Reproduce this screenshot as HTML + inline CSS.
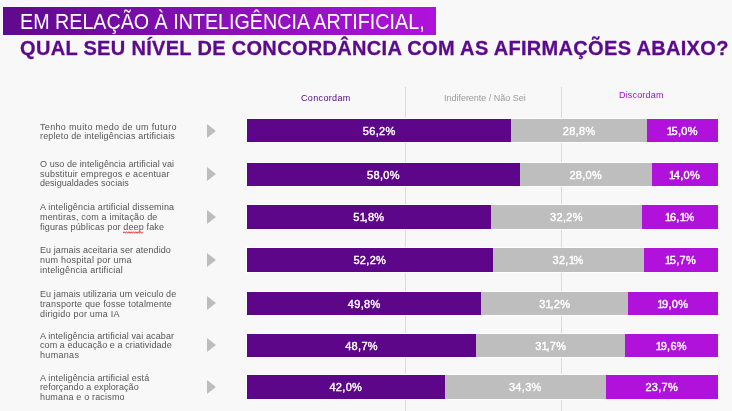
<!DOCTYPE html>
<html lang="pt-BR">
<head>
<meta charset="utf-8">
<title>Concordância IA</title>
<style>
html,body{margin:0;padding:0;}
#w{position:absolute;left:0;top:0;width:732px;height:411px;will-change:transform;}
body{width:732px;height:411px;overflow:hidden;background:#f8f8f8;position:relative;font-family:"Liberation Sans",Arial,sans-serif;}
.hbox{position:absolute;left:3px;top:7px;width:433px;height:28px;background:linear-gradient(90deg,#5e0a8e 0%,#8c10bb 55%,#b012dc 100%);box-shadow:0 0 0 1px #fff;}
.h1{position:absolute;left:19.7px;top:9.9px;color:#fff;font-size:21.8px;line-height:24px;white-space:nowrap;transform-origin:0 0;}
.h2{position:absolute;left:20px;top:35.7px;color:#5c0a8c;font-weight:bold;font-size:20px;line-height:24px;white-space:nowrap;letter-spacing:0.32px;-webkit-text-stroke:0.3px #5c0a8c;}
.grid{position:absolute;top:87px;width:1px;height:324px;background:#dadada;}
.col{position:absolute;font-size:9px;line-height:10px;white-space:nowrap;}
.l{position:absolute;left:40px;color:#555;font-size:9px;line-height:10px;white-space:nowrap;}
.tri{position:absolute;left:207px;width:0;height:0;border-top:7.5px solid transparent;border-bottom:7.5px solid transparent;border-left:9px solid #bdbdbd;}
.bar{position:absolute;left:247px;width:470.5px;display:flex;box-shadow:0 0 0 1px #fff;}
.bar div{height:100%;display:flex;align-items:center;justify-content:center;color:#fff;font-weight:normal;font-size:11px;letter-spacing:0.3px;-webkit-text-stroke:0.4px #fff;white-space:nowrap;}
.n1{letter-spacing:-1.3px;}
.a{background:#5e0689;}
.b{background:#bebebe;}
.c{background:#b012dc;}
</style>
</head>
<body>
<div id="w">
<div class="hbox"></div>
<div class="h1" style="transform:scaleX(0.9036)">EM RELAÇÃO À INTELIGÊNCIA ARTIFICIAL,</div>
<div class="h2">QUAL SEU NÍVEL DE CONCORDÂNCIA COM AS AFIRMAÇÕES ABAIXO?</div>
<div class="grid" style="left:405px"></div>
<div class="grid" style="left:561px"></div>
<div class="col" style="left:301px;top:92.5px;color:#4e067e;letter-spacing:0.349px">Concordam</div>
<div class="col" style="left:444px;top:92.5px;color:#9a9a9a;letter-spacing:-0.02px">Indiferente / Não Sei</div>
<div class="col" style="left:619px;top:90.3px;color:#a010d2;letter-spacing:0.174px">Discordam</div>
<div class="l" style="top:121.63px;letter-spacing:0.336px">Tenho muito medo de um futuro</div>
<div class="l" style="top:131.33px;letter-spacing:0.150px">repleto de inteligências artificiais</div>
<div class="tri" style="top:124.1px"></div>
<div class="bar" style="top:119px;height:23px"><div class="a" style="width:264.42px">56,2%</div><div class="b" style="width:135.50px">28,8%</div><div class="c" style="flex:1"><span class="n1">1</span>5,0%</div></div>
<div class="l" style="top:158.63px;letter-spacing:0.084px">O uso de inteligência artificial vai</div>
<div class="l" style="top:168.53px;letter-spacing:0.205px">substituir empregos e acentuar</div>
<div class="l" style="top:178.43px;letter-spacing:0.035px">desigualdades sociais</div>
<div class="tri" style="top:167.1px"></div>
<div class="bar" style="top:163px;height:23px"><div class="a" style="width:272.89px">58,0%</div><div class="b" style="width:131.74px">28,0%</div><div class="c" style="flex:1"><span class="n1">1</span>4,0%</div></div>
<div class="l" style="top:201.93px;letter-spacing:0.147px">A inteligência artificial dissemina</div>
<div class="l" style="top:211.83px;letter-spacing:0.185px">mentiras, com a imitação de</div>
<div class="l" style="top:221.63px;letter-spacing:0.133px">figuras públicas por deep fake</div>
<div class="tri" style="top:210.0px"></div>
<div class="bar" style="top:205px;height:24px"><div class="a" style="width:243.72px">5<span class="n1">1</span>,8%</div><div class="b" style="width:151.50px">32,2%</div><div class="c" style="flex:1"><span class="n1">1</span>6,<span class="n1">1</span>%</div></div>
<div class="l" style="top:244.93px;letter-spacing:0.089px">Eu jamais aceitaria ser atendido</div>
<div class="l" style="top:254.83px;letter-spacing:0.260px">num hospital por uma</div>
<div class="l" style="top:264.73px;letter-spacing:0.210px">inteligência artificial</div>
<div class="tri" style="top:253.0px"></div>
<div class="bar" style="top:248.4px;height:23.5px"><div class="a" style="width:245.60px">52,2%</div><div class="b" style="width:151.03px">32,<span class="n1">1</span>%</div><div class="c" style="flex:1"><span class="n1">1</span>5,7%</div></div>
<div class="l" style="top:289.13px;letter-spacing:0.096px">Eu jamais utilizaria um veiculo de</div>
<div class="l" style="top:298.93px;letter-spacing:0.174px">transporte que fosse totalmente</div>
<div class="l" style="top:308.73px;letter-spacing:0.216px">dirigido por uma IA</div>
<div class="tri" style="top:296.0px"></div>
<div class="bar" style="top:292px;height:23px"><div class="a" style="width:234.31px">49,8%</div><div class="b" style="width:146.80px">3<span class="n1">1</span>,2%</div><div class="c" style="flex:1"><span class="n1">1</span>9,0%</div></div>
<div class="l" style="top:330.53px;letter-spacing:0.113px">A inteligência artificial vai acabar</div>
<div class="l" style="top:340.43px;letter-spacing:0.087px">com a educação e a criatividade</div>
<div class="l" style="top:350.33px;letter-spacing:0.317px">humanas</div>
<div class="tri" style="top:338.2px"></div>
<div class="bar" style="top:334px;height:23px"><div class="a" style="width:229.13px">48,7%</div><div class="b" style="width:149.15px">3<span class="n1">1</span>,7%</div><div class="c" style="flex:1"><span class="n1">1</span>9,6%</div></div>
<div class="l" style="top:372.53px;letter-spacing:0.125px">A inteligência artificial está</div>
<div class="l" style="top:382.23px;letter-spacing:0.073px">reforçando a exploração</div>
<div class="l" style="top:392.23px;letter-spacing:0.179px">humana e o racismo</div>
<div class="tri" style="top:379.9px"></div>
<div class="bar" style="top:375.4px;height:23.5px"><div class="a" style="width:197.61px">42,0%</div><div class="b" style="width:161.38px">34,3%</div><div class="c" style="flex:1">23,7%</div></div>
<svg style="position:absolute;left:123px;top:230.8px" width="21.5" height="3" viewBox="0 0 21.5 3"><polyline points="0.00,2.30 1.17,0.70 2.34,2.30 3.51,0.70 4.68,2.30 5.85,0.70 7.02,2.30 8.19,0.70 9.36,2.30 10.53,0.70 11.70,2.30 12.87,0.70 14.04,2.30 15.21,0.70 16.38,2.30 17.55,0.70 18.72,2.30 19.89,0.70" fill="none" stroke="#e8292b" stroke-width="0.9"/></svg>
</div>
</body>
</html>
